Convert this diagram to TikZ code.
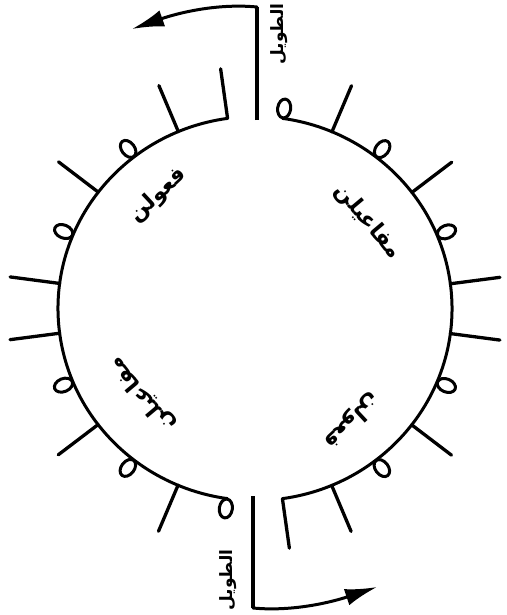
\documentclass[tikz,border=0pt]{standalone}
\usepackage{fontspec}
\usetikzlibrary{arrows.meta,calc,shapes.geometric}
\newfontfamily\arabicfont[Script=Arabic]{DejaVu Sans}
\TeXXeTstate=1
\begin{document}
\begin{tikzpicture}[x=1pt,y=-1pt, line cap=round, line join=round,
  ring/.style={line width=3pt},
  tick/.style={line width=3.3pt},
  sukun/.style={draw, ellipse, line width=3pt, minimum width=19pt, minimum height=13pt, inner sep=0pt},
  foot/.style={font=\arabicfont\bfseries\fontsize{22}{22}\selectfont, inner sep=0pt},
  meter/.style={font=\arabicfont\bfseries\fontsize{17}{17}\selectfont, inner sep=0pt, rotate=90},
  pointer/.style={line width=3pt, -{Latex[length=32pt,width=17pt]}},
  startline/.style={line width=4.5pt, line cap=butt}]
\useasboundingbox (0,0) rectangle (506,615);
\fill[white] (0,0) rectangle (506,615);
\def\cx{255}\def\cy{308.5}
\def\rx{197}\def\ry{192}
\coordinate (C) at (\cx,\cy);
% the ring, in two halves
\pgfmathsetmacro\ax{\cx+\rx*cos(262)}\pgfmathsetmacro\ay{\cy+\ry*sin(262)}
\draw[ring] (\ax,\ay) arc[start angle=262,end angle=98,x radius=\rx,y radius=\ry];
\pgfmathsetmacro\bx{\cx+\rx*cos(82)}\pgfmathsetmacro\by{\cy+\ry*sin(82)}
\draw[ring] (\bx,\by) arc[start angle=82,end angle=-82,x radius=\rx,y radius=\ry];
% marks: strokes and sukun ovals
\foreach \base in {270,90}{
  \foreach \i/\k in {0/s,1/s,2/o,3/s,4/o,5/s,6/s,7/o,8/s,9/o,10/s,11/o}{
    \pgfmathsetmacro\a{\base-8-14.9*\i}
    \pgfmathsetmacro\px{\cx+\rx*cos(\a)}\pgfmathsetmacro\py{\cy+\ry*sin(\a)}
    \pgfmathsetmacro\qx{\cx+(\rx+50)*cos(\a)}\pgfmathsetmacro\qy{\cy+(\ry+50)*sin(\a)}
    \pgfmathsetmacro\mx{\cx+(\rx+10)*cos(\a)}\pgfmathsetmacro\my{\cy+(\ry+10)*sin(\a)}
    \if\k s
      \coordinate (p) at (\px,\py);
      \coordinate (q) at (\qx,\qy);
      \draw[tick] (p) -- (q);
    \else
      \node[sukun, rotate=-\a] (m) at (\mx,\my) {};
    \fi
  }
}
% start lines and arrows
\coordinate (topfoot) at (257,120);
\coordinate (topcorner) at (257,7);
\coordinate (toptip) at (132,29);
\coordinate (botfoot) at (253,496);
\coordinate (botcorner) at (253,608);
\coordinate (bottip) at (377,587);
\draw[startline] (topfoot) -- (topcorner);
\draw[pointer] (topcorner) .. controls (215,3) and (175,14) .. (toptip);
\draw[startline] (botfoot) -- (botcorner);
\draw[pointer] (botcorner) .. controls (295,612) and (335,601) .. (bottip);
% labels
\node[meter] (tw1) at (279,34) {\beginR الطويل\endR};
\node[meter] (tw2) at (228,580) {\beginR الطويل\endR};
\node[foot, rotate=-50] (f1) at (368,222) {\beginR مفاعيلن\endR};
\node[foot, rotate=43] (f2) at (158,195) {\beginR فعولن\endR};
\node[foot, rotate=130] (f3) at (142,394) {\beginR مفاعيلن\endR};
\node[foot, rotate=223] (f4) at (352,421) {\beginR فعولن\endR};
\end{tikzpicture}
\end{document}
